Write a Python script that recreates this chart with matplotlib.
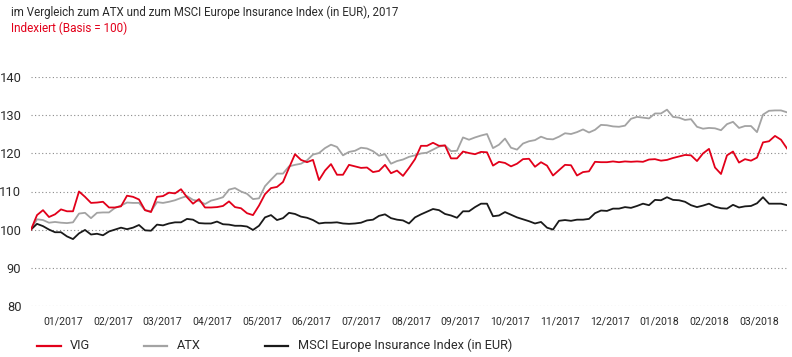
import matplotlib
matplotlib.use('Agg')
import matplotlib.pyplot as plt
from matplotlib.lines import Line2D
import numpy as np

months = ['01/2017', '02/2017', '03/2017', '04/2017', '05/2017', '06/2017', '07/2017',
          '08/2017', '09/2017', '10/2017', '11/2017', '12/2017', '01/2018', '02/2018', '03/2018']

vig = [100.0, 103.8, 105.1, 103.3, 104.0, 105.3, 104.8, 104.8, 110.0, 108.6,
       107.0, 107.1, 107.3, 105.8, 105.8, 106.1, 108.9, 108.6, 107.9, 105.1,
       104.6, 108.6, 108.8, 109.7, 109.5, 110.6, 108.5, 106.8, 108.0, 105.8,
       105.8, 105.9, 106.2, 107.4, 105.9, 105.6, 104.3, 103.8, 106.3, 109.3,
       110.9, 111.2, 112.5, 116.2, 119.8, 118.3, 117.7, 118.3, 113.0, 115.5,
       117.2, 114.4, 114.4, 117.0, 116.6, 116.2, 116.3, 115.1, 115.4, 117.0,
       114.8, 115.5, 114.1, 116.2, 118.5, 122.0, 122.0, 122.8, 122.0, 122.1,
       118.7, 118.7, 120.5, 120.1, 119.8, 120.4, 120.3, 116.8, 117.8, 117.5,
       116.6, 117.3, 118.5, 118.6, 116.5, 117.7, 116.8, 114.2, 115.6, 117.0,
       116.9, 114.2, 115.1, 115.3, 117.8, 117.7, 117.7, 117.9, 117.7, 117.9,
       117.8, 117.9, 117.8, 118.4, 118.5, 118.1, 118.3, 118.8, 119.2, 119.6,
       119.5, 118.0, 120.0, 121.2, 116.3, 114.6, 119.5, 120.5, 117.6, 118.5,
       118.1, 118.9, 122.9, 123.2, 124.6, 123.6, 121.3]

atx = [100.0, 102.7, 102.5, 101.8, 102.0, 101.8, 101.7, 101.9, 104.2, 104.4,
       103.0, 104.4, 104.5, 104.5, 105.7, 106.3, 107.1, 107.0, 107.0, 105.1,
       104.8, 107.2, 107.0, 107.3, 107.7, 108.3, 108.8, 107.8, 107.5, 106.7,
       107.6, 108.0, 108.5, 110.5, 110.9, 110.0, 109.4, 108.0, 108.2, 111.4,
       113.1, 114.7, 114.7, 116.6, 117.0, 117.3, 118.2, 119.7, 120.1, 121.4,
       122.3, 121.7, 119.5, 120.4, 120.7, 121.5, 121.3, 120.6, 119.4, 119.8,
       117.3, 118.0, 118.4, 119.1, 119.5, 120.0, 120.2, 121.0, 121.8, 122.1,
       120.6, 120.7, 124.2, 123.6, 124.2, 124.7, 125.1, 121.4, 122.3, 123.9,
       121.5, 121.0, 122.6, 123.2, 123.5, 124.4, 123.8, 123.7, 124.4, 125.3,
       125.1, 125.6, 126.3, 125.5, 126.2, 127.5, 127.4, 127.1, 127.0, 127.3,
       129.1, 129.6, 129.4, 129.2, 130.5, 130.5, 131.5, 129.6, 129.4, 128.8,
       129.0, 127.0, 126.5, 126.7, 126.6, 126.1, 127.7, 128.3, 126.7, 127.2,
       127.2, 125.6, 130.2, 131.2, 131.3, 131.3, 130.8]

msci = [100.0, 101.5, 100.9, 100.0, 99.3, 99.3, 98.2, 97.5, 99.0, 99.9,
        98.7, 98.9, 98.5, 99.5, 100.0, 100.5, 100.1, 100.5, 101.2, 99.8,
        99.7, 101.3, 101.1, 101.6, 101.9, 101.9, 102.8, 102.6, 101.7, 101.6,
        101.6, 102.1, 101.4, 101.3, 101.0, 101.0, 100.8, 99.9, 101.0, 103.2,
        103.8, 102.5, 103.0, 104.4, 104.1, 103.4, 103.1, 102.5, 101.6, 101.8,
        101.8, 101.9, 101.6, 101.5, 101.6, 101.8, 102.4, 102.6, 103.6, 104.0,
        103.0, 102.6, 102.4, 101.6, 103.2, 104.0, 104.7, 105.4, 105.1, 104.1,
        103.7, 103.1, 104.8, 104.8, 105.9, 106.8, 106.8, 103.5, 103.7, 104.6,
        103.9, 103.2, 102.7, 102.2, 101.6, 102.0, 100.5, 100.0, 102.3, 102.5,
        102.3, 102.6, 102.6, 102.8, 104.3, 105.0, 104.9, 105.5, 105.5, 105.9,
        105.7, 106.2, 106.8, 106.4, 107.8, 107.7, 108.5, 107.8, 107.7, 107.3,
        106.4, 105.9, 106.3, 106.8, 106.0, 105.6, 105.5, 106.5, 105.8, 106.1,
        106.2, 106.9, 108.5, 106.8, 106.8, 106.8, 106.4]

series_names = ['VIG', 'ATX', 'MSCI Europe Insurance Index (in EUR)']
title = 'im Vergleich zum ATX und zum MSCI Europe Insurance Index (in EUR), 2017'
subtitle = 'Indexiert (Basis = 100)'

RED = '#e2001a'
GREY = '#a3a3a3'
BLACK = '#1a1a1a'
TXT = '#2b2b2b'

plt.rcParams['font.family'] = ['Roboto', 'DejaVu Sans']

W, H = 792, 357
fig = plt.figure(figsize=(W / 100, H / 100), dpi=100)
left_px, right_px, top_px, bot_px = 31, 787, 77.3, 305.7
ax = fig.add_axes([left_px / W, 1 - bot_px / H, (right_px - left_px) / W, (bot_px - top_px) / H])

x = np.arange(len(vig))
ax.plot(x, atx, color=GREY, lw=1.3, solid_joinstyle='round')
ax.plot(x, msci, color=BLACK, lw=1.3, solid_joinstyle='round')
ax.plot(x, vig, color=RED, lw=1.3, solid_joinstyle='round')

ax.set_xlim(0, len(vig) - 1)
ax.set_ylim(80, 140)
ax.set_yticks(range(80, 141, 10))
for s in ax.spines.values():
    s.set_visible(False)
ax.grid(axis='y', linestyle=(0, (1, 2.2)), color='#8a8a8a', lw=0.8)
ax.grid(axis='x', visible=False)
ax.set_axisbelow(True)

# month labels evenly spaced (trading-day axis)
step_px = (right_px - left_px) / (len(vig) - 1)
label_px = 63 + 49.7 * np.arange(len(months))
ax.set_xticks((label_px - left_px) / step_px)
ax.set_xticklabels(months)
ax.tick_params(axis='both', length=0, colors=TXT)
ax.tick_params(axis='y', pad=7, labelsize=9.3)
ax.tick_params(axis='x', pad=8, labelsize=7.6)

fig.text(11 / W, 1 - 12.5 / H, title, fontsize=8.3, color=TXT, va='center', ha='left')
fig.text(11 / W, 1 - 28.5 / H, subtitle, fontsize=8.5, color=RED, va='center', ha='left')

# legend
leg_y = 1 - 345.5 / H
for (x0, x1, tx), col, name in zip([(37, 61, 70), (144, 167, 177), (265, 288, 298)],
                                   [RED, GREY, BLACK], series_names):
    fig.add_artist(Line2D([x0 / W, x1 / W], [leg_y, leg_y], color=col, lw=1.6))
    fig.text(tx / W, leg_y, name, fontsize=9.2, color=TXT, va='center', ha='left')

fig.savefig('out.png', dpi=100)
